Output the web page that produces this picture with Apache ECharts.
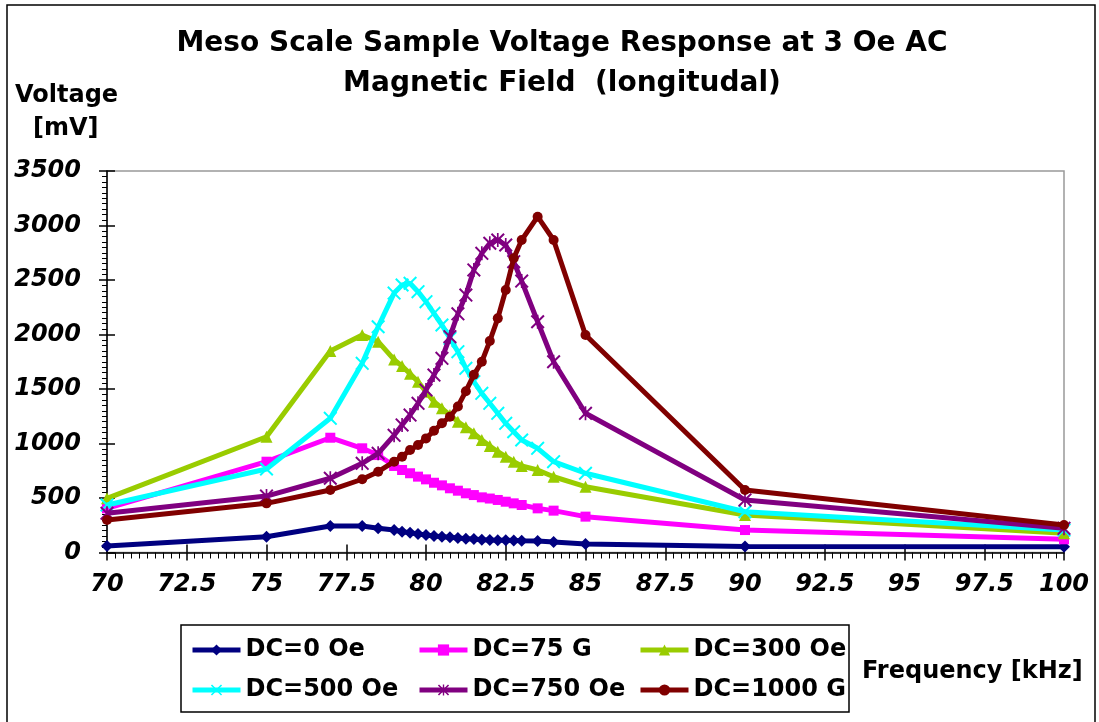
<!DOCTYPE html>
<html>
<head>
<meta charset="utf-8">
<script src="https://cdn.jsdelivr.net/npm/echarts@6/dist/echarts.min.js"></script>
<style>
html,body{margin:0;padding:0;background:#fff;}
#chart{width:1099px;height:722px;}
</style>
</head>
<body>
<div id="chart"></div>
<script>
// ---- data ----
const freqs = [70, 75, 77, 78, 78.5, 79, 79.25, 79.5, 79.75, 80, 80.25, 80.5, 80.75, 81, 81.25, 81.5, 81.75, 82, 82.25, 82.5, 82.75, 83, 83.5, 84, 85, 90, 100];
const dc0    = [60, 145, 243, 243, 222, 206, 191, 182, 170, 161, 151, 145, 139, 133, 127, 124, 118, 115, 113, 112, 110, 108, 105, 96, 78, 55, 52];
const dc75   = [405, 833, 1053, 956, 894, 794, 757, 727, 696, 671, 640, 616, 589, 567, 543, 527, 506, 495, 482, 466, 451, 436, 405, 384, 329, 206, 121];
const dc300  = [497, 1062, 1849, 1995, 1934, 1770, 1710, 1640, 1567, 1475, 1383, 1323, 1261, 1200, 1148, 1093, 1032, 977, 925, 879, 833, 794, 757, 695, 604, 344, 176];
const dc500  = [436, 766, 1231, 1736, 2071, 2380, 2454, 2470, 2393, 2301, 2194, 2087, 1965, 1842, 1690, 1567, 1460, 1369, 1277, 1185, 1108, 1032, 956, 833, 727, 374, 206];
const dc750  = [360, 518, 681, 818, 910, 1075, 1170, 1261, 1369, 1491, 1628, 1781, 1980, 2190, 2362, 2592, 2745, 2837, 2867, 2821, 2668, 2490, 2117, 1750, 1277, 482, 222];
const dc1000 = [298, 451, 573, 672, 741, 833, 879, 940, 986, 1047, 1117, 1185, 1246, 1340, 1480, 1630, 1750, 1940, 2148, 2408, 2699, 2867, 3081, 2867, 1995, 573, 252];
const seriesNames = ['DC=0 Oe', 'DC=75 G', 'DC=300 Oe', 'DC=500 Oe', 'DC=750 Oe', 'DC=1000 G'];
const titleLines = ['Meso Scale Sample Voltage Response at 3 Oe AC', 'Magnetic Field  (longitudal)'];

// ---- styling ----
const FONT = 'DejaVu Sans';
const colors = ['#000080', '#FF00FF', '#99CC00', '#00FFFF', '#800080', '#800000'];
const X_PATH = 'path://M1,0L5,4L9,0L10,1L6,5L10,9L9,10L5,6L1,10L0,9L4,5L0,1Z';
const STAR_PATH = 'path://M1,0L5,4L9,0L10,1L6,5L10,9L9,10L5,6L1,10L0,9L4,5L0,1Z M4.4,0L5.6,0L5.6,10L4.4,10Z';
const symbols = ['diamond', 'rect', 'triangle', X_PATH, STAR_PATH, 'circle'];
const symSizes = [12, 10, 12, 14, 14, 10];
const values = [dc0, dc75, dc300, dc500, dc750, dc1000];

const series = values.map((vals, i) => ({
  name: seriesNames[i],
  type: 'line',
  data: freqs.map((f, j) => [f, vals[j]]),
  symbol: symbols[i],
  symbolSize: symSizes[i],
  showSymbol: true,
  clip: false,
  lineStyle: { color: colors[i], width: 5 },
  itemStyle: { color: colors[i] },
  emphasis: { disabled: true },
  xAxisIndex: 0,
  yAxisIndex: 0,
  z: 3 + i
}));

const legendPos = [[190, 638], [417, 638], [638, 638], [190, 678], [417, 678], [638, 678]];
const legends = seriesNames.map((n, i) => ({
  data: [n],
  left: legendPos[i][0],
  top: legendPos[i][1],
  padding: 0,
  itemWidth: 48,
  itemHeight: 14,
  selectedMode: false,
  lineStyle: { width: 5 },
  textStyle: { fontFamily: FONT, fontWeight: 'bold', fontSize: 24, color: '#000' }
}));

const axisLabelX = { fontFamily: FONT, fontWeight: 'bold', fontStyle: 'italic', fontSize: 24, color: '#000', formatter: v => String(v) };

const option = {
  animation: false,
  backgroundColor: '#fff',
  title: {
    text: titleLines.join('\n'),
    left: 557,
    top: 19,
    textAlign: 'center',
    textStyle: { fontFamily: FONT, fontWeight: 'bold', fontSize: 28, lineHeight: 40, color: '#000' }
  },
  legend: legends,
  grid: {
    left: 107, right: 35, top: 171, bottom: 169.5,
    show: true, borderColor: '#999', borderWidth: 1.5, backgroundColor: '#fff'
  },
  xAxis: [{
    type: 'value', min: 70, max: 100, interval: 2.5,
    axisLine: { show: true, lineStyle: { color: '#000', width: 1.5 } },
    axisTick: { show: true, length: 8, lineStyle: { color: '#000', width: 1.5 } },
    minorTick: { show: true, splitNumber: 10, length: 6, lineStyle: { color: '#000', width: 1 } },
    splitLine: { show: false },
    axisLabel: Object.assign({ margin: 20 }, axisLabelX)
  }, {
    type: 'value', min: 70, max: 100, interval: 2.5, position: 'bottom',
    axisLine: { show: false },
    axisTick: { show: true, inside: true, length: 8, lineStyle: { color: '#000', width: 1.5 } },
    splitLine: { show: false },
    axisLabel: { show: false }
  }],
  yAxis: [{
    type: 'value', min: 0, max: 3500, interval: 500,
    axisLine: { show: true, lineStyle: { color: '#000', width: 1.5 } },
    axisTick: { show: true, length: 8, lineStyle: { color: '#000', width: 1.5 } },
    minorTick: { show: true, splitNumber: 10, length: 5, lineStyle: { color: '#000', width: 1 } },
    splitLine: { show: false },
    axisLabel: Object.assign({ margin: 26 }, axisLabelX)
  }, {
    type: 'value', min: 0, max: 3500, interval: 500, position: 'left',
    axisLine: { show: false },
    axisTick: { show: true, inside: true, length: 8, lineStyle: { color: '#000', width: 1.5 } },
    splitLine: { show: false },
    axisLabel: { show: false }
  }],
  graphic: [
    { type: 'rect', shape: { x: 7, y: 5, width: 1088, height: 740 }, style: { fill: 'none', stroke: '#000', lineWidth: 1.5 }, z: -10 },
    { type: 'rect', shape: { x: 181, y: 625, width: 668, height: 87 }, style: { fill: 'none', stroke: '#000', lineWidth: 1.5 }, z: 1 },
    { type: 'text', left: 15, top: 84, style: { text: 'Voltage', font: 'bold 24px "DejaVu Sans"', fill: '#000' } },
    { type: 'text', left: 33, top: 117, style: { text: '[mV]', font: 'bold 24px "DejaVu Sans"', fill: '#000' } },
    { type: 'text', left: 862, top: 660, style: { text: 'Frequency [kHz]', font: 'bold 24px "DejaVu Sans"', fill: '#000' } }
  ],
  series: series
};

const chart = echarts.init(document.getElementById('chart'), null, { renderer: 'canvas' });
chart.setOption(option);
</script>
</body>
</html>
